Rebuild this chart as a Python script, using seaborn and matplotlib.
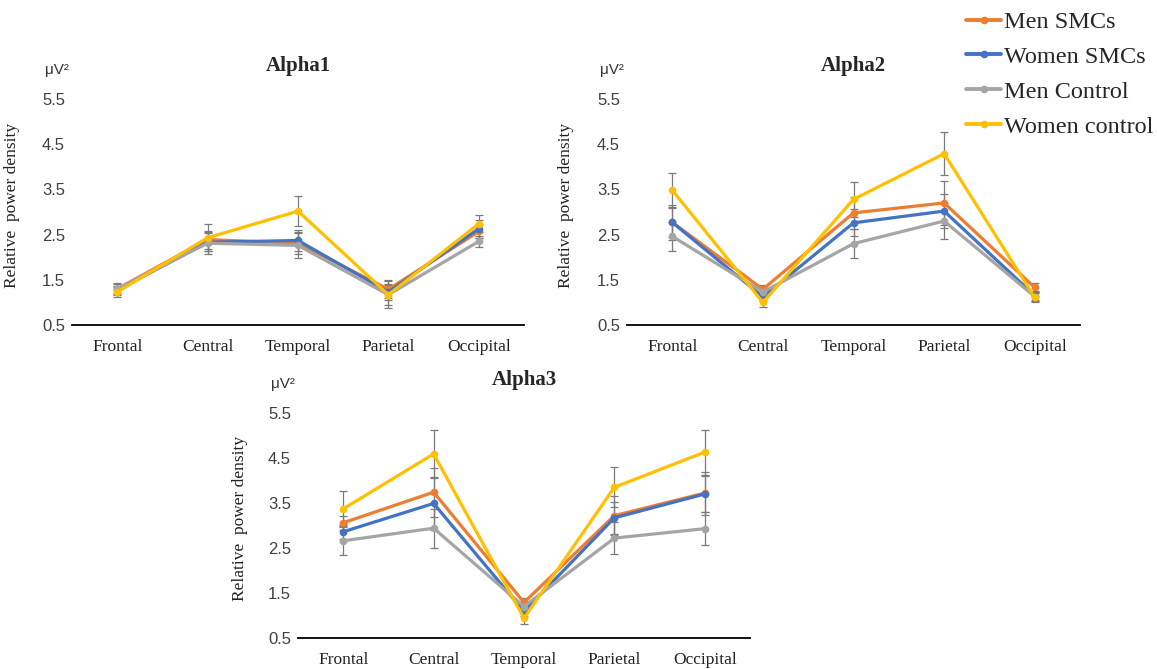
import numpy as np
import pandas as pd
import matplotlib
matplotlib.use("Agg")
import matplotlib.pyplot as plt
import seaborn as sns
from matplotlib.lines import Line2D

# ---------------- data ----------------
regions = ["Frontal", "Central", "Temporal", "Parietal", "Occipital"]
groups = ["Men SMCs", "Women SMCs", "Men Control", "Women control"]
panel_titles = ["Alpha1", "Alpha2", "Alpha3"]
y_ticks = [0.5, 1.5, 2.5, 3.5, 4.5, 5.5]

# Alpha1
a1_men_smc = [1.30, 2.39, 2.31, 1.29, 2.57]
a1_women_smc = [1.27, 2.33, 2.37, 1.23, 2.63]
a1_men_ctrl = [1.30, 2.31, 2.26, 1.17, 2.35]
a1_women_ctrl = [1.23, 2.43, 3.02, 1.17, 2.74]
a1_men_smc_err = [0.10, 0.20, 0.25, 0.20, 0.15]
a1_women_smc_err = [0.10, 0.20, 0.24, 0.18, 0.20]
a1_men_ctrl_err = [0.12, 0.25, 0.28, 0.30, 0.12]
a1_women_ctrl_err = [0.10, 0.30, 0.33, 0.22, 0.19]

# Alpha2
a2_men_smc = [2.77, 1.29, 2.98, 3.20, 1.33]
a2_women_smc = [2.77, 1.12, 2.76, 3.02, 1.15]
a2_men_ctrl = [2.46, 1.23, 2.30, 2.80, 1.13]
a2_women_ctrl = [3.48, 1.00, 3.28, 4.29, 1.11]
a2_men_smc_err = [0.38, 0.10, 0.36, 0.49, 0.10]
a2_women_smc_err = [0.33, 0.10, 0.30, 0.38, 0.10]
a2_men_ctrl_err = [0.32, 0.12, 0.32, 0.40, 0.10]
a2_women_ctrl_err = [0.39, 0.10, 0.38, 0.48, 0.10]

# Alpha3
a3_men_smc = [3.06, 3.74, 1.29, 3.22, 3.72]
a3_women_smc = [2.86, 3.49, 1.09, 3.17, 3.70]
a3_men_ctrl = [2.66, 2.94, 1.20, 2.72, 2.93]
a3_women_ctrl = [3.37, 4.59, 0.94, 3.85, 4.63]
a3_men_smc_err = [0.15, 0.54, 0.10, 0.43, 0.48]
a3_women_smc_err = [0.15, 0.58, 0.10, 0.35, 0.40]
a3_men_ctrl_err = [0.31, 0.43, 0.10, 0.35, 0.37]
a3_women_ctrl_err = [0.39, 0.54, 0.12, 0.44, 0.50]

panels = [
    ([a1_men_smc, a1_women_smc, a1_men_ctrl, a1_women_ctrl],
     [a1_men_smc_err, a1_women_smc_err, a1_men_ctrl_err, a1_women_ctrl_err]),
    ([a2_men_smc, a2_women_smc, a2_men_ctrl, a2_women_ctrl],
     [a2_men_smc_err, a2_women_smc_err, a2_men_ctrl_err, a2_women_ctrl_err]),
    ([a3_men_smc, a3_women_smc, a3_men_ctrl, a3_women_ctrl],
     [a3_men_smc_err, a3_women_smc_err, a3_men_ctrl_err, a3_women_ctrl_err]),
]

colors = ["#ED7D31", "#4472C4", "#A5A5A5", "#FFC000"]
palette = dict(zip(groups, colors))

# ---------------- style ----------------
sns.set_theme(style="white")
plt.rcParams["font.family"] = ["Liberation Serif", "DejaVu Serif"]

W, H = 1157, 669
fig = plt.figure(figsize=(W / 100, H / 100), dpi=100)

# axes boxes in pixel coords: (left, right, top, bottom)
boxes = [(72, 524, 99, 325), (627, 1080, 99, 325), (298, 750, 413, 638)]
ylab_x = [-0.115, -0.118, -0.11]

for i, ((vals, errs), (l, r, t, b)) in enumerate(zip(panels, boxes)):
    ax = fig.add_axes([l / W, 1 - b / H, (r - l) / W, (b - t) / H])
    rows = []
    for g, v in zip(groups, vals):
        for j, val in enumerate(v):
            rows.append({"pos": j, "region": regions[j], "group": g, "value": val})
    df = pd.DataFrame(rows)

    for g, v, e, c in zip(groups, vals, errs, colors):
        ax.errorbar(np.arange(len(regions)), v, yerr=e, fmt="none",
                    ecolor="#7a7a7a", elinewidth=0.9, capsize=3,
                    capthick=0.9, zorder=1)

    sns.lineplot(data=df, x="pos", y="value", hue="group", hue_order=groups,
                 palette=palette, marker="o", markersize=5.5,
                 markeredgewidth=0, linewidth=2.3, errorbar=None,
                 legend=False, ax=ax, zorder=3)

    ax.set_xlim(-0.5, len(regions) - 0.5)
    ax.set_ylim(0.5, 5.5)
    ax.set_yticks(y_ticks)
    ax.set_yticklabels([f"{y:.1f}" for y in y_ticks],
                       fontfamily="Liberation Sans", fontsize=12, color="#404040")
    ax.set_xticks(np.arange(len(regions)))
    ax.set_xticklabels(regions, fontsize=12.5, color="#222222")
    ax.tick_params(axis="y", length=0, pad=5)
    ax.tick_params(axis="x", length=0, pad=10)
    for s in ["left", "right", "top"]:
        ax.spines[s].set_visible(False)
    ax.spines["bottom"].set_color("black")
    ax.spines["bottom"].set_linewidth(1.3)
    ax.set_xlabel("")
    ax.set_ylabel("Relative  power density", fontsize=12.5, color="#222222")
    ax.yaxis.set_label_coords(ylab_x[i], 0.53)
    ax.set_title(panel_titles[i], fontsize=15, fontweight="bold", pad=20)
    ax.text(-0.06, 1.13, "μV²", transform=ax.transAxes, fontsize=11,
            fontfamily="Liberation Sans", color="#333333", ha="left", va="center")
    ax.grid(False)

handles = [Line2D([0], [0], color=c, lw=2.8, marker="o", markersize=5.5,
                  markeredgewidth=0) for c in colors]
fig.legend(handles, groups, loc="upper left",
           bbox_to_anchor=(966 / W, 1 - 11 / H), frameon=False,
           fontsize=17.5, handlelength=1.45, handletextpad=0.12,
           labelspacing=0.53, borderpad=0, borderaxespad=0)

fig.savefig("out.png", dpi=100, facecolor="white")
